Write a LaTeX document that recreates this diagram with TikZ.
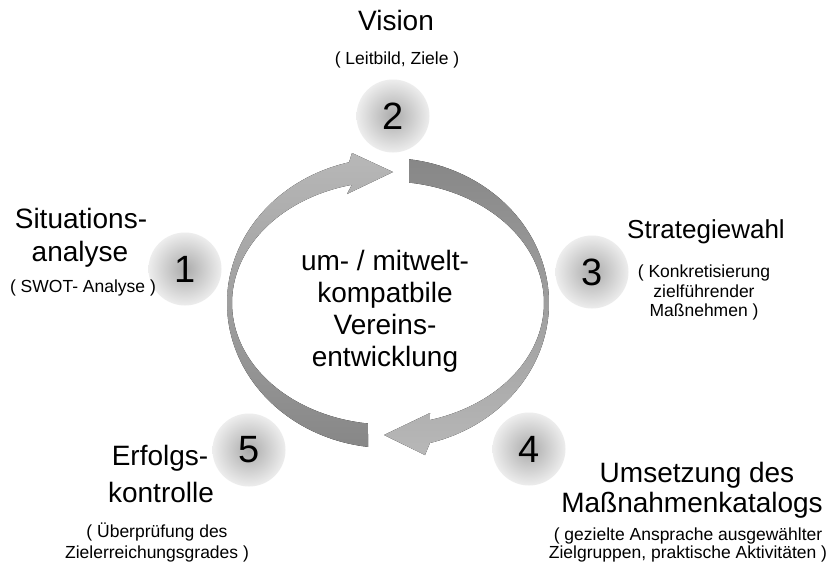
\documentclass[tikz,border=0pt]{standalone}
\usepackage{fontspec}
\setmainfont{Liberation Sans}
\begin{document}
\begin{tikzpicture}[x=1pt,y=-1pt,
  bigtxt/.style={anchor=base,inner sep=0pt,font=\fontsize{28}{28}\selectfont},
  midtxt/.style={anchor=base,inner sep=0pt,font=\fontsize{26}{26}\selectfont},
  smalltxt/.style={anchor=base,inner sep=0pt,font=\fontsize{17.5}{17.5}\selectfont},
  stepball/.style={circle,minimum size=73pt,inner sep=0pt,
    inner color=black!33,outer color=black!7,
    font=\fontsize{38}{38}\selectfont},
]
\definecolor{arrlight}{gray}{0.72}
\definecolor{arrdark}{gray}{0.53}
% canvas
\useasboundingbox (0,0) rectangle (835,565);
\fill[white] (0,0) rectangle (835,565);

% ring of two curved arrows (outer ellipse 161x145, inner 156x121.5)
\fill[top color=arrlight,bottom color=arrdark]
  plot[domain=97.1:256,samples=90] ({388+161*cos(\x)},{303+145*sin(\x)})
  -- (352,153) -- (393,172) -- (347,194)
  -- plot[domain=256.6:97.4,samples=90] ({388+156*cos(\x)},{303+121.5*sin(\x)})
  -- cycle;
\fill[top color=arrdark,bottom color=arrlight]
  plot[domain=277.5:434.9,samples=90] ({388+161*cos(\x)},{303+145*sin(\x)})
  -- (425,455) -- (384,435) -- (430,413)
  -- plot[domain=434.4:277.8,samples=90] ({388+156*cos(\x)},{303+121.5*sin(\x)})
  -- cycle;

% centre text
\node[bigtxt] (c1) at (385,270) {um- / mitwelt-};
\node[bigtxt] (c2) at (385,302) {kompatbile};
\node[bigtxt] (c3) at (385,334) {Vereins-};
\node[bigtxt] (c4) at (385,366) {entwicklung};

% numbered steps
\node[stepball] (s1) at (185,269) {1};
\node[stepball] (s2) at (393,116) {2};
\node[stepball] (s3) at (592,272) {3};
\node[stepball] (s4) at (529,449) {4};
\node[stepball] (s5) at (249,450) {5};

% step 1
\node[bigtxt] (t1a) at (81,228) {Situations-};
\node[bigtxt] (t1b) at (80,261) {analyse};
\node[smalltxt] (t1c) at (83,292) {( SWOT- Analyse )};

% step 2
\node[bigtxt] (t2a) at (396,30) {Vision};
\node[smalltxt] (t2b) at (397,64) {( Leitbild, Ziele )};

% step 3
\node[midtxt] (t3a) at (706,238) {Strategiewahl};
\node[smalltxt] (t3b) at (704,277) {( Konkretisierung};
\node[smalltxt] (t3c) at (704,297) {zielführender};
\node[smalltxt] (t3d) at (704,316) {Maßnehmen )};

% step 4
\node[bigtxt] (t4a) at (697,482) {Umsetzung des};
\node[bigtxt] (t4b) at (692,512) {Maßnahmenkatalogs};
\node[smalltxt] (t4c) at (688,540) {( gezielte Ansprache ausgewählter};
\node[smalltxt] (t4d) at (688,558) {Zielgruppen, praktische Aktivitäten )};

% step 5
\node[bigtxt] (t5a) at (160,465) {Erfolgs-};
\node[bigtxt] (t5b) at (161,502) {kontrolle};
\node[smalltxt] (t5c) at (157,537) {( Überprüfung des};
\node[smalltxt] (t5d) at (157,558) {Zielerreichungsgrades )};
\end{tikzpicture}
\end{document}
